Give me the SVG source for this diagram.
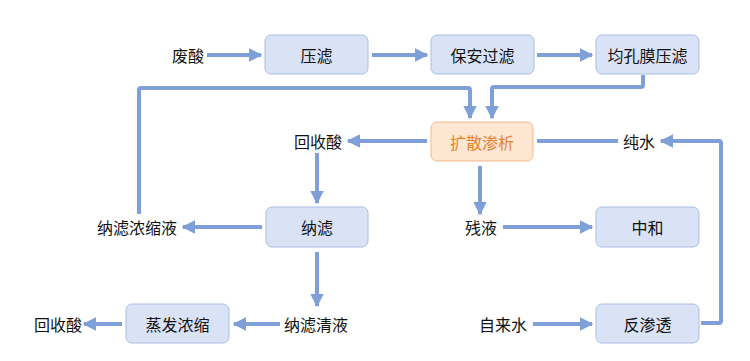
<svg xmlns="http://www.w3.org/2000/svg" width="750" height="361" viewBox="0 0 750 361">
<style>
.box{fill:#dae3f6;stroke:#a9bde3;stroke-width:1}
.obox{fill:#fde6d2;stroke:#f2b98a;stroke-width:1}
text{font-family:"Noto Sans CJK SC","Microsoft YaHei",sans-serif;font-size:16px;fill:#111;text-anchor:middle;dominant-baseline:central}
.otext{fill:#e5832f}
.ln{fill:none;stroke:#7f9fd8;stroke-width:4;stroke-linejoin:round}
</style>
<defs>
<marker id="ah" viewBox="0 0 10 10" refX="9" refY="5" markerWidth="3.4" markerHeight="3.4" orient="auto" markerUnits="strokeWidth">
<path d="M0,0 L10,5 L0,10 z" fill="#7f9fd8"/>
</marker>
</defs>
<rect width="750" height="361" fill="#fff"/>
<g id="connectors">
<path class="ln" d="M207,55 H261" marker-end="url(#ah)"/>
<path class="ln" d="M372,55 H427" marker-end="url(#ah)"/>
<path class="ln" d="M537,55 H592" marker-end="url(#ah)"/>
<path class="ln" d="M139,214 V90 Q139,88 141,88 H468 Q470,88 470,90 V118" marker-end="url(#ah)"/>
<path class="ln" d="M643,75 V85 Q643,87 641,87 H494 Q492,87 492,89 V118" marker-end="url(#ah)"/>
<path class="ln" d="M427,141 H348" marker-end="url(#ah)"/>
<path class="ln" d="M317,153 V203" marker-end="url(#ah)"/>
<path class="ln" d="M262,227 H183" marker-end="url(#ah)"/>
<path class="ln" d="M317,252 V306" marker-end="url(#ah)"/>
<path class="ln" d="M280,324 H234" marker-end="url(#ah)"/>
<path class="ln" d="M122,324 H84" marker-end="url(#ah)"/>
<path class="ln" d="M480,166 V214" marker-end="url(#ah)"/>
<path class="ln" d="M503,227 H592" marker-end="url(#ah)"/>
<path class="ln" d="M533,324 H592" marker-end="url(#ah)"/>
<path class="ln" d="M701,323 H719 Q721,323 721,321 V143 Q721,141 719,141 H661" marker-end="url(#ah)"/>
<path class="ln" d="M618,141 H537"/>
</g>
<g id="n-feisuan"><text x="188" y="55">废酸</text></g>
<g id="n-yalv"><rect class="box" x="265" y="35" width="103" height="39" rx="6"/><text x="316.5" y="55">压滤</text></g>
<g id="n-baoan"><rect class="box" x="431" y="35" width="103" height="39" rx="6"/><text x="482.5" y="55">保安过滤</text></g>
<g id="n-junkong"><rect class="box" x="596" y="35" width="103" height="39" rx="6"/><text x="647.5" y="55">均孔膜压滤</text></g>
<g id="n-kuosan"><rect class="obox" x="431" y="122" width="102" height="39" rx="6"/><text class="otext" x="482" y="142">扩散渗析</text></g>
<g id="n-huishousuan1"><text x="318" y="141">回收酸</text></g>
<g id="n-chunshui"><text x="639" y="141">纯水</text></g>
<g id="n-nonsuoye"><text x="137" y="227">纳滤浓缩液</text></g>
<g id="n-nalv"><rect class="box" x="266" y="207" width="102" height="40" rx="6"/><text x="317" y="227">纳滤</text></g>
<g id="n-canye"><text x="481" y="227">残液</text></g>
<g id="n-zhonghe"><rect class="box" x="596" y="207" width="103" height="40" rx="6"/><text x="647.5" y="227">中和</text></g>
<g id="n-huishousuan2"><text x="58" y="324">回收酸</text></g>
<g id="n-zhengfa"><rect class="box" x="126" y="304" width="103" height="39" rx="6"/><text x="177.5" y="324">蒸发浓缩</text></g>
<g id="n-qingye"><text x="316" y="324">纳滤清液</text></g>
<g id="n-zilaishui"><text x="503" y="324">自来水</text></g>
<g id="n-fanshentou"><rect class="box" x="596" y="304" width="103" height="39" rx="6"/><text x="647.5" y="324">反渗透</text></g>
</svg>
